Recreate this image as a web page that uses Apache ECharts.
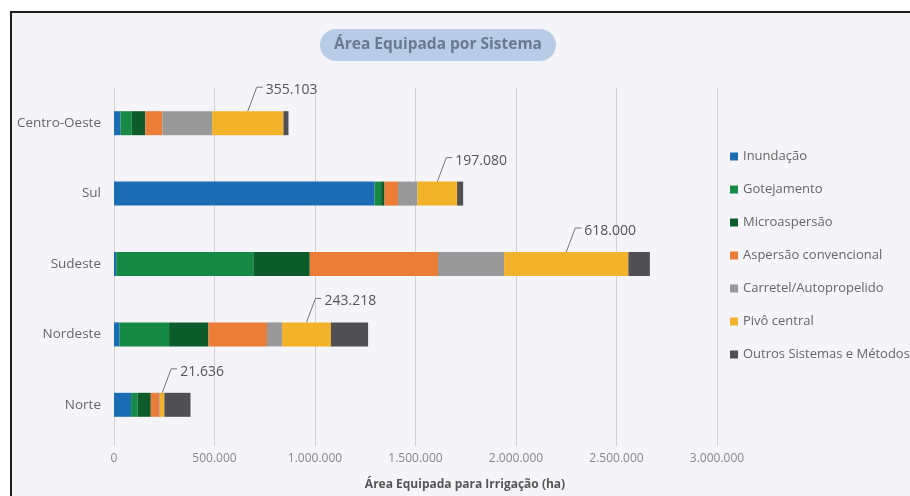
<!DOCTYPE html>
<html>
<head>
<meta charset="utf-8">
<script src="https://cdn.jsdelivr.net/npm/echarts@6/dist/echarts.min.js"></script>
<style>
  html, body { margin: 0; padding: 0; background: #ffffff; }
  #chart { width: 910px; height: 496px; }
</style>
</head>
<body>
<div id="chart"></div>
<script>
// categorias de baixo para cima
var regioes = ["Norte", "Nordeste", "Sudeste", "Sul", "Centro-Oeste"];

var inundacao = [85000, 28000, 11000, 1296000, 33000];
var gotejamento = [33000, 246000, 685000, 33000, 55000];
var microaspersao = [65000, 196000, 278000, 17000, 68000];
var aspersaoConv = [43000, 291000, 638000, 67000, 85000];
var carretel = [3000, 75000, 329000, 97000, 247000];
var pivoCentral = [21636, 243218, 618000, 197080, 355103];
var outros = [130000, 185000, 107000, 30000, 25000];

var xTicks = [0, 500000, 1000000, 1500000, 2000000, 2500000, 3000000];

var nomes = ["Inundação", "Gotejamento", "Microaspersão", "Aspersão convencional",
  "Carretel/Autopropelido", "Pivô central", "Outros Sistemas e Métodos"];
var cores = ["#1a6db5", "#168a45", "#0e5c2c", "#eb7d37", "#999999", "#f2b22a", "#4f4f54"];
var valores = [inundacao, gotejamento, microaspersao, aspersaoConv, carretel, pivoCentral, outros];

function fmt(v) {
  return String(v).replace(/\B(?=(\d{3})+(?!\d))/g, ".");
}

var myChart = echarts.init(document.getElementById("chart"));

var series = [];
for (var i = 0; i < nomes.length; i++) {
  series.push({
    name: nomes[i],
    type: "bar",
    stack: "total",
    barWidth: 24,
    data: valores[i],
    itemStyle: { color: cores[i] },
    emphasis: { disabled: true },
  });
}

// rótulos do Pivô central com linha guia
var rotulos = [];
for (var j = 0; j < regioes.length; j++) {
  var antes = inundacao[j] + gotejamento[j] + microaspersao[j] + aspersaoConv[j] + carretel[j];
  rotulos.push([j, antes, pivoCentral[j]]);
}
series.push({
  type: "custom",
  name: "rotulos",
  silent: true,
  z: 5,
  data: rotulos,
  encode: { x: [1, 2], y: 0 },
  renderItem: function (params, api) {
    var meio = api.coord([api.value(1) + api.value(2) / 2, api.value(0)]);
    var cx = meio[0];
    var ty = meio[1] - 12;
    return {
      type: "group",
      children: [
        {
          type: "polyline",
          shape: { points: [[cx, ty], [cx + 9, ty - 24], [cx + 15, ty - 24]] },
          style: { stroke: "#777", lineWidth: 1, fill: null },
        },
        {
          type: "text",
          style: {
            x: cx + 18,
            y: ty - 21,
            text: fmt(api.value(2)),
            fill: "#555",
            fontSize: 14,
            fontFamily: "Open Sans",
            align: "left",
            verticalAlign: "middle",
          },
        },
      ],
    };
  },
});

myChart.setOption({
  backgroundColor: "#ffffff",
  animation: false,
  graphic: [
    {
      type: "rect",
      z: -100,
      shape: { x: 11, y: 12, width: 1000, height: 600 },
      style: { fill: "#f4f4f9", stroke: "#1c1c1c", lineWidth: 2 },
    },
  ],
  title: [
    {
      text: "Área Equipada por Sistema",
      left: 320,
      top: 29,
      padding: [8, 14],
      backgroundColor: "#b8cce8",
      borderRadius: 17,
      textStyle: { color: "#6a7890", fontSize: 15.5, fontWeight: "bold", fontFamily: "Open Sans" },
    },
    {
      text: "Área Equipada para Irrigação (ha)",
      left: 460,
      top: 474,
      textAlign: "center",
      textStyle: { color: "#555", fontSize: 12, fontWeight: "bold", fontFamily: "Open Sans" },
    },
  ],
  legend: {
    orient: "vertical",
    left: 730,
    top: 150,
    padding: 0,
    itemWidth: 8,
    itemHeight: 8,
    itemGap: 20,
    icon: "rect",
    data: nomes,
    textStyle: { color: "#666", fontSize: 13, fontFamily: "Open Sans" },
  },
  grid: { left: 114, right: 193, top: 88, bottom: 56, containLabel: false },
  xAxis: {
    type: "value",
    min: 0,
    max: xTicks[xTicks.length - 1],
    interval: xTicks[1] - xTicks[0],
    axisLine: { show: false },
    axisTick: { show: true, length: 6, lineStyle: { color: "#d2d2d2" } },
    splitLine: { show: true, lineStyle: { color: "#d2d2d2", width: 1 } },
    axisLabel: {
      color: "#888",
      fontSize: 12,
      margin: 13,
      fontFamily: "Open Sans",
      formatter: function (v) { return fmt(v); },
    },
  },
  yAxis: {
    type: "category",
    data: regioes,
    axisLine: { show: false },
    axisTick: { show: false },
    axisLabel: { color: "#666", fontSize: 13.5, margin: 13, fontFamily: "Open Sans" },
  },
  series: series,
});
</script>
</body>
</html>
